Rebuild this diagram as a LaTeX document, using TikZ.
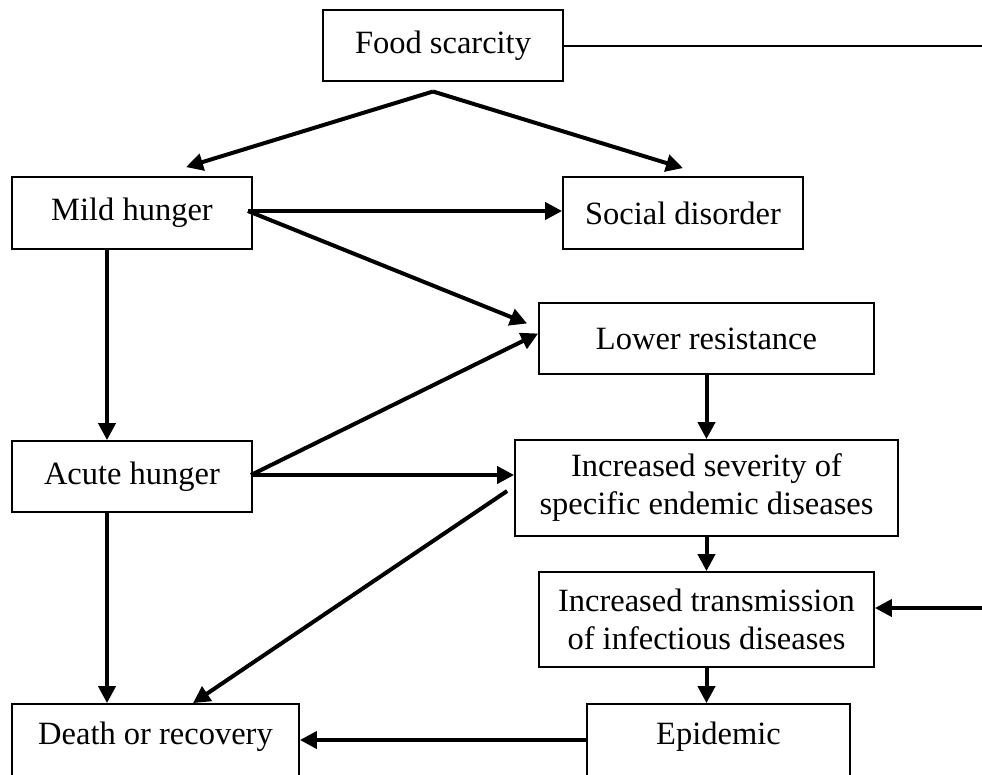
\documentclass[tikz,border=0pt]{standalone}
\usepackage{fontspec}
\setmainfont{Liberation Serif}
\usetikzlibrary{arrows.meta}
\begin{document}
\begin{tikzpicture}[x=1pt,y=-1pt,
  box/.style={draw,line width=1.8pt,rectangle,inner sep=0pt,align=center,
    font=\fontsize{32.5}{38}\selectfont},
  lbl/.style={inner sep=0pt,font=\fontsize{32.5}{38}\selectfont},
  arr/.style={line width=4pt,-{Triangle[length=17pt,width=17pt]}},
  thinln/.style={line width=2pt}]
\useasboundingbox (0,0) rectangle (982,774);
\node[box,minimum width=240,minimum height=71] (fs) at (443,45.5) {Food scarcity};
\node[box,minimum width=240,minimum height=72] (mh) at (132,213) {Mild hunger};
\node[box,minimum width=240,minimum height=72] (sd) at (683,213) {Social disorder};
\node[box,minimum width=335,minimum height=71] (lr) at (706.5,338.5) {Lower resistance};
\node[box,minimum width=240,minimum height=71] (ah) at (132,476.5) {Acute hunger};
\node[box,minimum width=383,minimum height=96] (isv) at (706.5,488) {Increased severity of\\specific endemic diseases};
\node[box,minimum width=335,minimum height=95] (itr) at (706.5,619.5) {Increased transmission\\of infectious diseases};
\node[box,minimum width=263,minimum height=90] (ep) at (718.5,749) {};
\node[lbl] (eptext) at (718.5,737) {Epidemic};
\node[box,minimum width=287,minimum height=90] (dr) at (155.5,749) {};
\node[lbl] (drtext) at (155.5,737) {Death or recovery};
\coordinate (fsR) at (982,45.5);
\coordinate (fsB) at (433,91.5);
\coordinate (itrR) at (982,608);
% connectors
\draw[thinln] (fs.east) -- (fsR);
\draw[arr] (fsB) -- ([xshift=54pt,yshift=9pt]mh.north);
\draw[arr] (fsB) -- ([yshift=8pt]sd.north);
\draw[arr] ([xshift=-5pt,yshift=2pt]mh.east) -- ([yshift=2pt]sd.west);
\draw[arr] ([xshift=-5pt,yshift=2pt]mh.east) -- ([xshift=-11pt,yshift=15pt]lr.west);
\draw[arr] ([xshift=-25pt]mh.south) -- ([xshift=-25pt]ah.north);
\draw[arr] ([xshift=-2pt,yshift=1.5pt]ah.east) -- ([yshift=5pt]lr.west);
\draw[arr] ([xshift=-2pt,yshift=1.5pt]ah.east) -- ([yshift=13pt]isv.west);
\draw[arr] ([xshift=-7pt,yshift=-3pt]isv.west) -- ([xshift=37.5pt]dr.north);
\draw[arr] ([xshift=-25pt]ah.south) -- ([xshift=-48.5pt]dr.north);
\draw[arr] (lr.south) -- (isv.north);
\draw[arr] (isv.south) -- (itr.north);
\draw[arr] (itrR) -- ([yshift=11.5pt]itr.east);
\draw[arr] (itr.south) -- (itr.south |- ep.north);
\draw[arr] ([yshift=9pt]ep.west) -- ([yshift=9pt]dr.east);
\end{tikzpicture}
\end{document}
